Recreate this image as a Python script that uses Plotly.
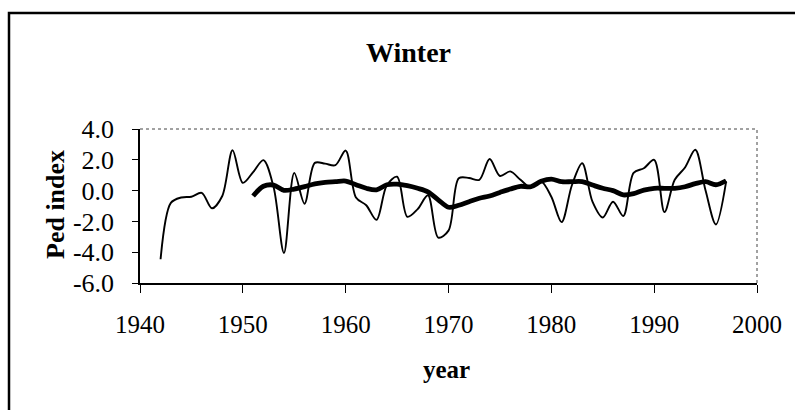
import plotly.graph_objects as go

# Annual winter Ped index
years = list(range(1942, 1998))
ped_index = [
    -4.46, -0.80, -0.45, -0.40, -0.15, -1.15, -0.35, 2.62, 0.50, 1.20,
    1.98, 0.20, -4.05, 1.15, -0.85, 1.80, 1.75, 1.65, 2.60, -0.45,
    -0.95, -1.90, 0.35, 0.90, -1.70, -1.20, -0.30, -3.05, -2.60, 0.80,
    0.82, 0.70, 2.05, 0.95, 1.25, 0.70, 0.20, 0.60, -0.40, -2.05,
    0.35, 1.78, -0.72, -1.75, -0.72, -1.65, 1.15, 1.45, 2.00, -1.40,
    0.70, 1.50, 2.65, 0.00, -2.20, 0.60,
]

# Running mean of the index
ma_years = list(range(1951, 1998))
ped_running_mean = [
    -0.35, 0.28, 0.36, 0.02, 0.10, 0.26, 0.44, 0.54, 0.58, 0.62,
    0.38, 0.15, 0.05, 0.38, 0.42, 0.32, 0.15, -0.08, -0.60, -1.08,
    -0.95, -0.72, -0.50, -0.35, -0.12, 0.10, 0.28, 0.25, 0.60, 0.75,
    0.58, 0.58, 0.58, 0.36, 0.15, 0.00, -0.28, -0.20, 0.03, 0.15,
    0.15, 0.15, 0.25, 0.45, 0.58, 0.38, 0.64,
]

x_ticks = [1940, 1950, 1960, 1970, 1980, 1990, 2000]
x_tick_labels = [str(v) for v in x_ticks]
y_ticks = [-6, -4, -2, 0, 2, 4]
y_tick_labels = ["-6.0", "-4.0", "-2.0", "0.0", "2.0", "4.0"]

# page geometry (pixels)
W, H = 795, 410
L, R, T, B = 140, 757, 129, 283


def px(x):
    return (x - L) / (R - L)


def py(y):
    return (B - y) / (B - T)


serif = "Liberation Serif, Times New Roman, serif"

fig = go.Figure()
fig.add_trace(go.Scatter(
    x=years, y=ped_index, mode="lines",
    line=dict(color="black", width=1.9, shape="spline", smoothing=0.9),
    showlegend=False, hoverinfo="x+y",
))
fig.add_trace(go.Scatter(
    x=ma_years, y=ped_running_mean, mode="lines",
    line=dict(color="black", width=4.8, shape="spline", smoothing=0.9),
    showlegend=False, hoverinfo="x+y",
))

fig.update_layout(
    width=W, height=H, autosize=False,
    margin=dict(l=L, r=W - R, t=T, b=H - B, pad=0),
    paper_bgcolor="white", plot_bgcolor="white",
    font=dict(family=serif, color="black", size=25),
    xaxis=dict(
        range=[1940, 2000], tickmode="array", tickvals=x_ticks, ticktext=x_tick_labels,
        showgrid=False, zeroline=False, showline=True, linecolor="black", linewidth=1.5,
        ticks="outside", ticklen=8, tickwidth=1.3, tickcolor="black",
        ticklabelstandoff=10, tickfont=dict(family=serif, size=25, color="black"),
        automargin=False, fixedrange=True,
    ),
    yaxis=dict(
        range=[-6, 4], tickmode="array", tickvals=y_ticks, ticktext=y_tick_labels,
        showgrid=False, zeroline=False, showline=True, linecolor="black", linewidth=1.5,
        ticks="outside", ticklen=6, tickwidth=1.3, tickcolor="black",
        ticklabelstandoff=13, tickfont=dict(family=serif, size=26, color="black"),
        automargin=False, fixedrange=True,
    ),
    shapes=[
        # dotted top and right edges of the plot area
        dict(type="line", xref="paper", yref="paper", x0=0, x1=1, y0=1, y1=1,
             line=dict(color="#444444", width=1, dash="dot")),
        dict(type="line", xref="paper", yref="paper", x0=1, x1=1, y0=0, y1=1,
             line=dict(color="#444444", width=1, dash="dot")),
        # outer chart frame
        dict(type="rect", xref="paper", yref="paper",
             x0=px(9), x1=px(802), y0=py(420), y1=py(13),
             line=dict(color="black", width=2.5), fillcolor="rgba(0,0,0,0)", layer="below"),
    ],
    annotations=[
        dict(text="<b>Winter</b>", xref="paper", yref="paper", x=px(408), y=py(52.5),
             xanchor="center", yanchor="middle", showarrow=False,
             font=dict(family=serif, size=28, color="black")),
        dict(text="<b>Ped index</b>", xref="paper", yref="paper", x=px(55), y=py(205),
             xanchor="center", yanchor="middle", showarrow=False, textangle=-90,
             font=dict(family=serif, size=26, color="black")),
        dict(text="<b>year</b>", xref="paper", yref="paper", x=px(446), y=py(369.5),
             xanchor="center", yanchor="middle", showarrow=False,
             font=dict(family=serif, size=25, color="black")),
    ],
)

fig.write_html("out.html", config={"displayModeBar": False})
